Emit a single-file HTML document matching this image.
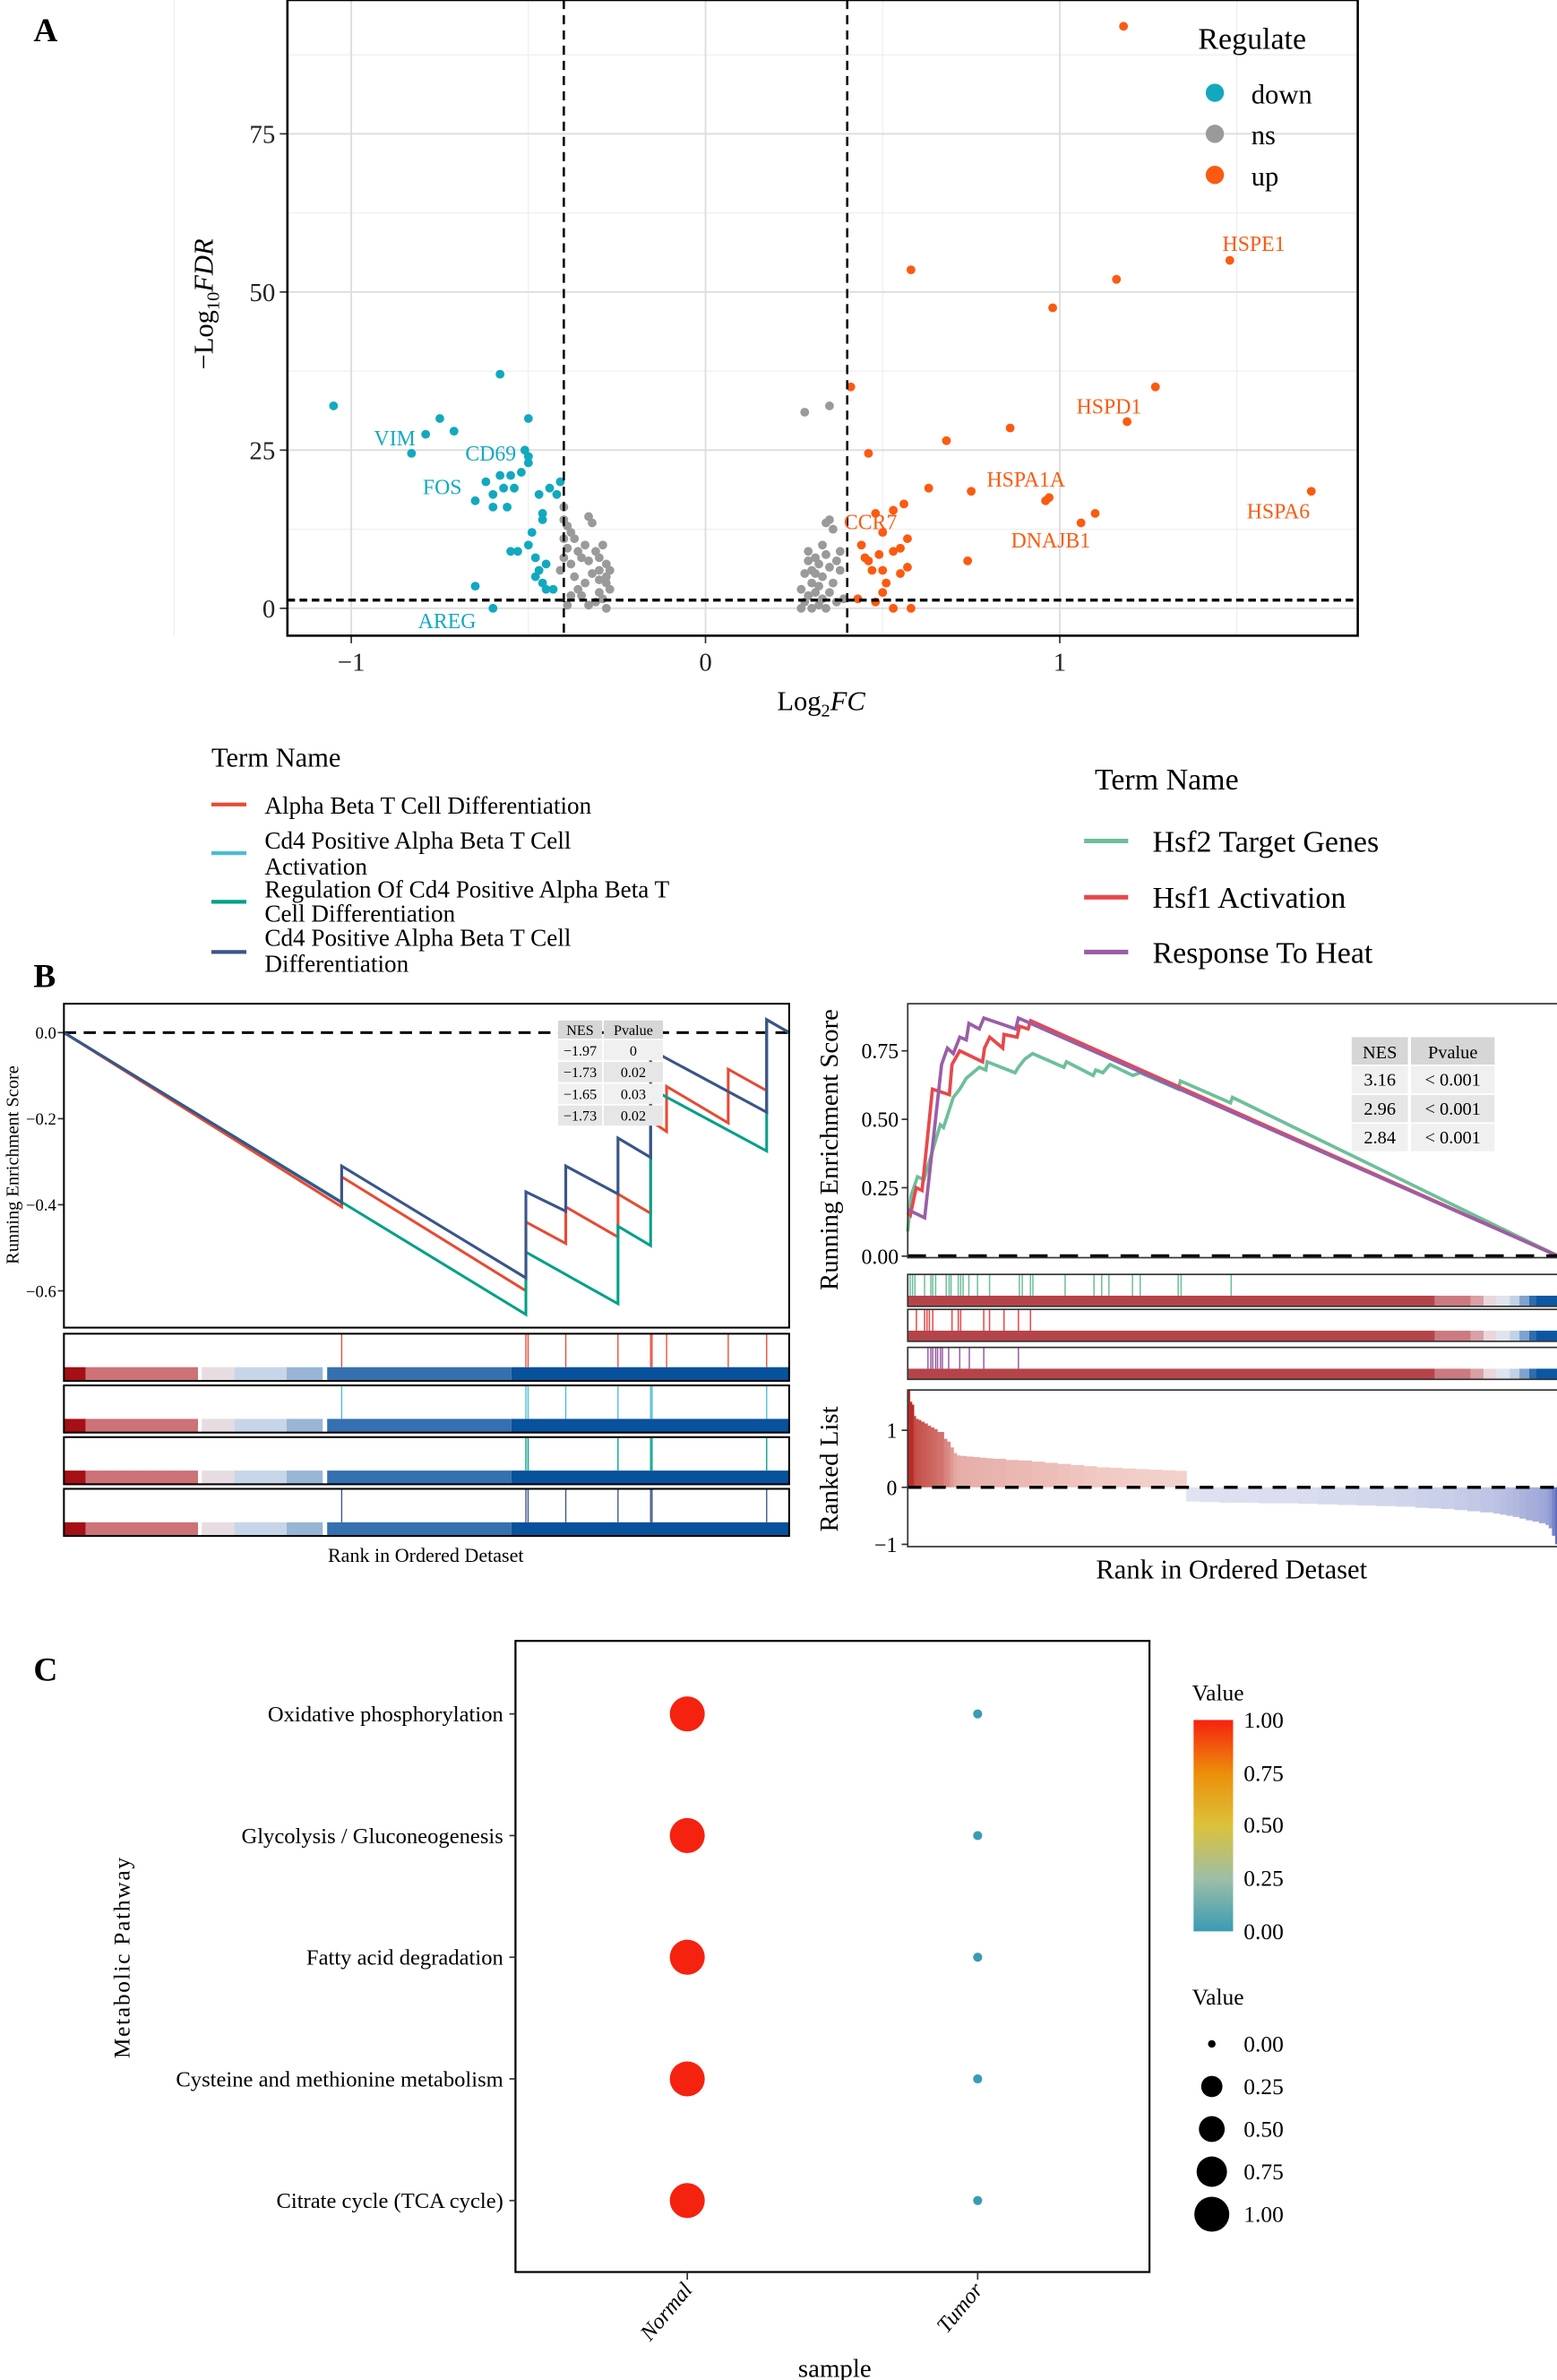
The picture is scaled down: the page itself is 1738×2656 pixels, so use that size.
<!DOCTYPE html>
<html><head><meta charset="utf-8"><style>
html,body{margin:0;padding:0;background:#fff;}
svg{display:block;font-family:"Liberation Serif",serif;}
</style></head><body>
<svg id="fig" width="1738" height="2656" viewBox="0 0 1024 1565" xmlns="http://www.w3.org/2000/svg" font-family="Liberation Serif, serif">
<rect width="1024" height="1565" fill="#fff"/>
<g id="pa">
 <text x="22" y="27" font-size="22" font-weight="bold">A</text>
 <g id="vgrid"></g>
 <g id="vpts"></g>
 <rect x="189" y="0" width="704" height="418" fill="none" stroke="#000" stroke-width="1.5"/>
 <text x="540" y="467" font-size="18" text-anchor="middle">Log<tspan font-size="12" dy="4">2</tspan><tspan dy="-4" font-style="italic">FC</tspan></text>
 <text transform="translate(140,200) rotate(-90)" font-size="18" text-anchor="middle">−Log<tspan font-size="12" dy="4">10</tspan><tspan dy="-4" font-style="italic">FDR</tspan></text>
 <g>
  <text x="788" y="32" font-size="20">Regulate</text>
  <circle cx="799" cy="61" r="6" fill="#12A9BF"/><text x="823" y="68" font-size="18">down</text>
  <circle cx="799" cy="88" r="6" fill="#9A9A9A"/><text x="823" y="95" font-size="18">ns</text>
  <circle cx="799" cy="115" r="6" fill="#FC5A11"/><text x="823" y="122" font-size="18">up</text>
 </g>
 <g font-size="14">
  <text x="246" y="293" fill="#12A9BF">VIM</text><text x="306" y="303" fill="#12A9BF">CD69</text>
  <text x="278" y="325" fill="#12A9BF">FOS</text><text x="275" y="413" fill="#12A9BF">AREG</text>
  <text x="804" y="165" fill="#FC5A11">HSPE1</text><text x="708" y="272" fill="#FC5A11">HSPD1</text>
  <text x="649" y="320" fill="#FC5A11">HSPA1A</text><text x="820" y="341" fill="#FC5A11">HSPA6</text>
  <text x="665" y="360" fill="#FC5A11">DNAJB1</text><text x="555" y="348" fill="#FC5A11">CCR7</text>
 </g>
</g>
<g font-size="16">
 <text x="139" y="504" font-size="18">Term Name</text>
 <line x1="139" x2="162" y1="529" y2="529" stroke="#E64B35" stroke-width="2.5"/><text x="174" y="535">Alpha Beta T Cell Differentiation</text>
 <line x1="139" x2="162" y1="561" y2="561" stroke="#4DBBD5" stroke-width="2.5"/><text x="174" y="558">Cd4 Positive Alpha Beta T Cell</text><text x="174" y="575">Activation</text>
 <line x1="139" x2="162" y1="593" y2="593" stroke="#00A087" stroke-width="2.5"/><text x="174" y="590">Regulation Of Cd4 Positive Alpha Beta T</text><text x="174" y="606">Cell Differentiation</text>
 <line x1="139" x2="162" y1="626" y2="626" stroke="#3C5488" stroke-width="2.5"/><text x="174" y="622">Cd4 Positive Alpha Beta T Cell</text><text x="174" y="639">Differentiation</text>
</g>
<g font-size="20">
 <text x="720" y="519">Term Name</text>
 <line x1="713" x2="742" y1="553" y2="553" stroke="#6DBF9A" stroke-width="3"/><text x="758" y="560">Hsf2 Target Genes</text>
 <line x1="713" x2="742" y1="590" y2="590" stroke="#E8484B" stroke-width="3"/><text x="758" y="597">Hsf1 Activation</text>
 <line x1="713" x2="742" y1="626" y2="626" stroke="#9A5EA6" stroke-width="3"/><text x="758" y="633">Response To Heat</text>
</g>
<text x="22" y="649" font-size="22" font-weight="bold">B</text>
<g id="gl"></g>
<g id="gr"></g>
<text x="280" y="1027" font-size="13" text-anchor="middle">Rank in Ordered Detaset</text>
<text x="810" y="1038" font-size="18" text-anchor="middle">Rank in Ordered Detaset</text>
<text transform="translate(12,766) rotate(-90)" font-size="12" text-anchor="middle">Running Enrichment Score</text>
<text transform="translate(551,756) rotate(-90)" font-size="17" text-anchor="middle">Running Enrichment Score</text>
<text transform="translate(551,966) rotate(-90)" font-size="17" text-anchor="middle">Ranked List</text>
<text x="22" y="1105" font-size="22" font-weight="bold">C</text>
<g id="pc"></g>
<text transform="translate(85,1287) rotate(-90)" font-size="15" text-anchor="middle" letter-spacing="1">Metabolic Pathway</text>
<text x="549" y="1563" font-size="17" text-anchor="middle">sample</text>
<defs>
 <linearGradient id="cbar" x1="0" y1="1" x2="0" y2="0">
  <stop offset="0" stop-color="#3A9BB5"/><stop offset="0.25" stop-color="#9DBFA5"/><stop offset="0.5" stop-color="#DCC23A"/><stop offset="0.75" stop-color="#EC8E0A"/><stop offset="1" stop-color="#F5220F"/>
 </linearGradient>
</defs>
<g font-size="15">
 <text x="784" y="1118">Value</text>
 <rect x="785" y="1131" width="26" height="139" fill="url(#cbar)"/>
 <text x="818" y="1136">1.00</text><text x="818" y="1171">0.75</text><text x="818" y="1205">0.50</text><text x="818" y="1240">0.25</text><text x="818" y="1275">0.00</text>
</g>
<g font-size="15">
 <text x="784" y="1318">Value</text>
 <circle cx="797" cy="1344" r="2.5"/><text x="818" y="1349">0.00</text>
 <circle cx="797" cy="1372" r="7"/><text x="818" y="1377">0.25</text>
 <circle cx="797" cy="1400" r="8.5"/><text x="818" y="1405">0.50</text>
 <circle cx="797" cy="1428" r="10"/><text x="818" y="1433">0.75</text>
 <circle cx="797" cy="1456" r="11.5"/><text x="818" y="1461">1.00</text>
</g>
</svg>
<script>
const NS='http://www.w3.org/2000/svg';
function mk(tag,attrs,parent){const e=document.createElementNS(NS,tag);for(const k in attrs)e.setAttribute(k,attrs[k]);parent.appendChild(e);return e;}

// ---------- Volcano data ----------
const downX=[-1.05,-0.58,-0.71,-0.75,-0.79,-0.83,-0.5,-0.51,-0.5,-0.5,-0.62,-0.58,-0.55,-0.52,-0.41,-0.6,-0.57,-0.47,-0.65,-0.6,-0.56,-0.46,-0.46,-0.44,-0.49,-0.5,-0.55,-0.53,-0.48,-0.45,-0.47,-0.46,-0.48,-0.45,-0.65,-0.6,-0.43,-0.54,-0.42];
const downY=[32,37,28,30,27.5,24.5,30,25,24,23,20,21,21,21.5,20,18,19,18,17,16,16,15,14,19,12,10,9,9,8,7,6,4,5,3,3.5,0,3,19,18];
const nsX=[-0.4,-0.4,-0.39,-0.38,-0.4,-0.37,-0.39,-0.36,-0.4,-0.38,-0.35,-0.33,-0.31,-0.29,-0.3,-0.28,-0.27,-0.28,-0.3,-0.32,-0.34,-0.36,-0.38,-0.39,-0.33,-0.31,-0.28,-0.3,-0.27,-0.29,-0.34,-0.32,-0.41,-0.37,-0.35,-0.33,-0.28,-0.3,
 0.28,0.35,0.35,0.34,0.36,0.33,0.29,0.31,0.32,0.3,0.28,0.33,0.35,0.37,0.38,0.3,0.27,0.32,0.29,0.35,0.33,0.27,0.3,0.32,0.34,0.37,0.39,0.36,0.28,0.31,0.38,0.34,0.29,0.31];
const nsY=[16,14,13,12,11,11,9.5,9,8,7,8,7.5,9,10,8,7,6,5,4.5,5.5,4,3,2,0.5,0.5,1,0,2.5,3,1.5,10,13.5,6,5,2,14.5,4,6,
 31,32,14,13.5,12.5,10,9,8,7,6,5.5,5,6.5,7.5,6,4,3,3.5,2,2.5,1.5,0,0,0.5,0,1,1.5,4,1,2.5,9,8.5,7.5,5.5];
const upX=[1.18,0.58,1.16,0.98,1.48,1.27,0.41,1.19,0.86,0.68,0.46,0.63,0.75,0.96,0.97,1.1,1.06,1.71,0.48,0.53,0.56,0.5,0.57,0.55,0.44,0.49,0.53,0.46,0.47,0.5,0.55,0.57,0.74,0.51,0.5,0.48,0.43,0.53,0.58,0.45];
const upY=[92,53.5,52,47.5,55,35,35,29.5,28.5,26.5,24.5,19,18.5,17,17.5,15,13.5,18.5,15,15.5,16.5,12,11,9.5,10,8.5,9,7.5,6,6,5.5,6.5,7.5,4,2.5,1,1.5,0,0,8];
const xTickVals=[-1,0,1], xTickLabels=['−1','0','1'];
const yTickVals=[0,25,50,75], yTickLabels=['0','25','50','75'];
const vx=v=>464+233*v, vy=v=>400-4.16*v;
const vg=document.getElementById('vgrid');
[-1.5,-0.5,0.5,1.5].forEach(v=>{const l=mk('line',{x1:vx(v),x2:vx(v),y1:0,y2:418,stroke:'#EBEBEB','stroke-width':0.6},vg);});
[12.5,37.5,62.5,87.5].forEach(v=>{const l=mk('line',{x1:189,x2:893,y1:vy(v),y2:vy(v),stroke:'#EBEBEB','stroke-width':0.6},vg);});
xTickVals.forEach((v,i)=>{const l=mk('line',{x1:vx(v),x2:vx(v),y1:0,y2:418,stroke:'#DDDDDD','stroke-width':1.1},vg);
 const t=mk('line',{x1:vx(v),x2:vx(v),y1:418,y2:423,stroke:'#333'},vg);
 const tx=mk('text',{x:vx(v),y:441,'font-size':17,'text-anchor':'middle',fill:'#222'},vg);tx.textContent=xTickLabels[i];});
yTickVals.forEach((v,i)=>{const l=mk('line',{x1:189,x2:893,y1:vy(v),y2:vy(v),stroke:'#DDDDDD','stroke-width':1.1},vg);
 const t=mk('line',{x1:184,x2:189,y1:vy(v),y2:vy(v),stroke:'#333'},vg);
 const tx=mk('text',{x:181,y:vy(v)+6,'font-size':17,'text-anchor':'end',fill:'#222'},vg);tx.textContent=yTickLabels[i];});
const vp=document.getElementById('vpts');
function pts(X,Y,col,nm){X.forEach((x,i)=>{const c=mk('circle',{cx:vx(x),cy:vy(Y[i]),r:2.9,fill:col},vp);});}
pts(nsX,nsY,'#9A9A9A','ns-point');pts(downX,downY,'#12A9BF','down-point');pts(upX,upY,'#FC5A11','up-point');
[-0.4,0.4].forEach(v=>{const l=mk('line',{x1:vx(v),x2:vx(v),y1:0,y2:418,stroke:'#000','stroke-width':1.5,'stroke-dasharray':'6,4'},vp);});
{const l=mk('line',{x1:189,x2:893,y1:vy(1.3),y2:vy(1.3),stroke:'#000','stroke-width':2,'stroke-dasharray':'5,3'},vp);}

// ---------- GSEA left ----------
const glRedX=[0,0.383,0.383,0.637,0.637,0.692,0.692,0.764,0.764,0.809,0.809,0.831,0.831,0.916,0.916,0.969,0.969,1];
const glRedY=[0,-0.405,-0.335,-0.60,-0.44,-0.49,-0.405,-0.475,-0.375,-0.42,-0.205,-0.23,-0.125,-0.21,-0.085,-0.135,0.03,0];
const glTealX=[0,0.383,0.383,0.637,0.637,0.692,0.692,0.764,0.764,0.809,0.809,0.969,0.969,1];
const glTealY=[0,-0.395,-0.31,-0.57,-0.37,-0.415,-0.31,-0.375,-0.245,-0.29,-0.04,-0.185,0.03,0];
const glGreenX=[0,0.637,0.637,0.764,0.764,0.809,0.809,0.969,0.969,1];
const glGreenY=[0,-0.655,-0.51,-0.63,-0.45,-0.495,-0.13,-0.275,0.03,0];
const glNavyX=glTealX.slice(), glNavyY=glTealY.slice();
const glTicks=[0,-0.2,-0.4,-0.6], glTickLabels=['0.0','−0.2','−0.4','−0.6'];
const glHits=[[0.383,0.637,0.640,0.692,0.764,0.809,0.811,0.831,0.916,0.969],[0.383,0.637,0.640,0.692,0.764,0.809,0.811,0.969],[0.637,0.640,0.764,0.809,0.811,0.969],[0.383,0.637,0.640,0.692,0.764,0.809,0.811,0.969]];
const glCols=['#E64B35','#4DBBD5','#00A087','#3C5488'];
const glNES=['−1.97','−1.73','−1.65','−1.73'], glP=['0','0.02','0.03','0.02'];
const gl=document.getElementById('gl');
const lx=f=>42+477*f, ly=v=>679-283*v;
glTicks.forEach((v,i)=>{const t=mk('line',{x1:38,x2:42,y1:ly(v),y2:ly(v),stroke:'#333'},gl);
 const tx=mk('text',{x:37,y:ly(v)+4,'font-size':11,'text-anchor':'end'},gl);tx.textContent=glTickLabels[i];});
{const l=mk('line',{x1:42,x2:519,y1:ly(0),y2:ly(0),stroke:'#000','stroke-width':1.8,'stroke-dasharray':'8,5'},gl);}
[[glTealX,glTealY],[glRedX,glRedY],[glGreenX,glGreenY],[glNavyX,glNavyY]].forEach((s,k)=>{const idx=[1,0,2,3][k];
 const p=mk('polyline',{points:s[0].map((x,i)=>lx(x)+','+ly(s[1][i])).join(' '),fill:'none',stroke:glCols[idx],'stroke-width':1.8},gl);});
{const tg=mk('g',{'font-size':9.5,'text-anchor':'middle'},gl);
 mk('rect',{x:367,y:671,width:29,height:12,fill:'#D6D6D6'},tg);mk('rect',{x:397,y:671,width:39,height:12,fill:'#D6D6D6'},tg);
 let a=mk('text',{x:381.5,y:680.5},tg);a.textContent='NES';a=mk('text',{x:416.5,y:680.5},tg);a.textContent='Pvalue';
 glNES.forEach((n,i)=>{const y=684+i*14.3;mk('rect',{x:367,y:y,width:29,height:13.3,fill:i%2?'#E6E6E6':'#F0F0F0'},tg);mk('rect',{x:397,y:y,width:39,height:13.3,fill:i%2?'#E6E6E6':'#F0F0F0'},tg);
  let t=mk('text',{x:381.5,y:y+10},tg);t.textContent=n;t=mk('text',{x:416.5,y:y+10},tg);t.textContent=glP[i];});}
{const r=mk('rect',{x:42,y:660,width:477,height:213,fill:'none',stroke:'#000','stroke-width':1.2},gl);}
const glBarStops=[0,0.03,0.185,0.19,0.235,0.307,0.357,0.363,0.617,1];
const glBarCols=['#A50F15','#CD7277','#FFFFFF','#E8DCE3','#C6D6E8','#98B5D6','#FFFFFF','#3570B0','#08519C'];
glHits.forEach((h,k)=>{const y0=877+k*34;const g=mk('g',{},gl);
 for(let i=0;i<glBarCols.length;i++){mk('rect',{x:lx(glBarStops[i]),y:y0+22,width:lx(glBarStops[i+1])-lx(glBarStops[i]),height:9,fill:glBarCols[i]},g);}
 h.forEach(f=>{const l=mk('line',{x1:lx(f),x2:lx(f),y1:y0,y2:y0+22,stroke:glCols[k],'stroke-width':0.8},g);});
 mk('rect',{x:42,y:y0,width:477,height:31,fill:'none',stroke:'#000','stroke-width':1.2},g);});

// ---------- GSEA right ----------
const grGreenX=[0,0.005,0.015,0.025,0.05,0.055,0.07,0.08,0.09,0.1,0.11,0.12,0.122,0.165,0.17,0.18,0.192,0.24,0.244,0.285,0.289,0.3,0.307,0.311,0.346,0.357,0.416,0.419,0.496,0.499,1];
const grGreenY=[0.09,0.22,0.29,0.28,0.48,0.47,0.58,0.61,0.65,0.67,0.69,0.68,0.71,0.67,0.69,0.72,0.74,0.69,0.71,0.66,0.68,0.67,0.69,0.70,0.66,0.67,0.61,0.64,0.56,0.58,0];
const grRedX=[0,0.004,0.013,0.022,0.038,0.064,0.068,0.08,0.115,0.118,0.126,0.146,0.148,0.168,0.172,0.185,0.189,1];
const grRedY=[0.16,0.15,0.25,0.24,0.61,0.59,0.70,0.75,0.71,0.76,0.80,0.76,0.81,0.80,0.84,0.83,0.86,0];
const grPurpleX=[0,0.026,0.052,0.061,0.07,0.08,0.09,0.094,0.11,0.117,0.166,0.17,1];
const grPurpleY=[0.17,0.14,0.70,0.76,0.74,0.80,0.79,0.85,0.83,0.87,0.83,0.87,0];
const grTicks=[0,0.25,0.5,0.75], grTickLabels=['0.00','0.25','0.50','0.75'];
const grHitsGreen=[215,220,225,245,258,262,268,290,296,300,315,320,325,337,355,380,442,448,465,470,537,597,613,628,677,693,772,778,882].map(z=>(z-210)/1352);
const grHitsRed=[228,245,250,255,262,302,315,320,368,380,410,440,465].map(z=>(z-210)/1352);
const grHitsPurple=[252,258,262,268,272,278,282,295,318,338,368,440].map(z=>(z-210)/1352);
const grNES=['3.16','2.96','2.84'], grP=['< 0.001','< 0.001','< 0.001'];
const rankX=[0,0.003,0.006,0.009,0.012,0.016,0.02,0.025,0.03,0.035,0.04,0.045,0.05,0.055,0.06,0.065,0.07,0.075,0.08,0.09,0.1,0.11,0.12,0.13,0.15,0.17,0.19,0.21,0.23,0.25,0.27,0.29,0.31,0.33,0.35,0.37,0.39,0.41,
 0.428,0.45,0.48,0.51,0.54,0.57,0.6,0.63,0.66,0.69,0.72,0.75,0.78,0.8,0.82,0.84,0.86,0.88,0.9,0.91,0.92,0.93,0.94,0.95,0.96,0.97,0.98,0.985,0.99,0.995];
const rankY=[1.7,1.5,1.45,1.25,1.2,1.18,1.15,1.12,1.08,1.05,1.02,0.97,0.97,0.85,0.8,0.7,0.6,0.56,0.55,0.54,0.53,0.52,0.51,0.5,0.48,0.47,0.45,0.43,0.41,0.39,0.37,0.35,0.34,0.33,0.32,0.31,0.3,0.29,
 -0.25,-0.26,-0.27,-0.27,-0.28,-0.28,-0.29,-0.3,-0.31,-0.32,-0.33,-0.34,-0.36,-0.37,-0.38,-0.4,-0.42,-0.44,-0.46,-0.48,-0.5,-0.52,-0.55,-0.58,-0.6,-0.63,-0.66,-0.72,-0.85,-1.0];
const rankTicks=[1,0,-1], rankTickLabels=['1','0','−1'];
const gr=document.getElementById('gr');
const rx=f=>597+428*f, ry=v=>826-180*v;
grTicks.forEach((v,i)=>{const t=mk('line',{x1:593,x2:597,y1:ry(v),y2:ry(v),stroke:'#333'},gr);
 const tx=mk('text',{x:591,y:ry(v)+5,'font-size':14,'text-anchor':'end'},gr);tx.textContent=grTickLabels[i];});
[[grGreenX,grGreenY,'#6DBF9A'],[grRedX,grRedY,'#E8484B'],[grPurpleX,grPurpleY,'#9A5EA6']].forEach(s=>{
 const p=mk('polyline',{points:s[0].map((x,i)=>rx(x)+','+ry(s[1][i])).join(' '),fill:'none',stroke:s[2],'stroke-width':2.2},gr);});
{const l=mk('line',{x1:597,x2:1025,y1:ry(0),y2:ry(0),stroke:'#000','stroke-width':2.5,'stroke-dasharray':'12,8'},gr);}
{const tg=mk('g',{'font-size':12,'text-anchor':'middle'},gr);
 mk('rect',{x:889,y:682,width:37,height:18,fill:'#D6D6D6'},tg);mk('rect',{x:928,y:682,width:55,height:18,fill:'#D6D6D6'},tg);
 let a=mk('text',{x:907.5,y:696},tg);a.textContent='NES';a=mk('text',{x:955.5,y:696},tg);a.textContent='Pvalue';
 grNES.forEach((n,i)=>{const y=701+i*19;const f=i%2?'#E6E6E6':'#F0F0F0';mk('rect',{x:889,y:y,width:37,height:18,fill:f},tg);mk('rect',{x:928,y:y,width:55,height:18,fill:f},tg);
  let t=mk('text',{x:907.5,y:y+13},tg);t.textContent=n;t=mk('text',{x:955.5,y:y+13},tg);t.textContent=grP[i];});}
{const r=mk('rect',{x:597,y:660,width:428,height:167,fill:'none',stroke:'#333','stroke-width':1},gr);}
const grBarStops=[0,0.81,0.865,0.885,0.905,0.925,0.94,0.955,0.965,1];
const grBarCols=['#B5444A','#CC7A80','#D9A0A6','#EAD6DC','#E0E4EE','#C2D2E6','#7FA3CF','#2F6CB0','#0B57A2'];
[grHitsGreen,grHitsRed,grHitsPurple].forEach((h,k)=>{const y0=[838,861,886][k];const col=['#6DBF9A','#E8484B','#9A5EA6'][k];
 const g=mk('g',{},gr);
 for(let i=0;i<grBarCols.length;i++)mk('rect',{x:rx(grBarStops[i]),y:y0+14,width:rx(grBarStops[i+1])-rx(grBarStops[i]),height:7,fill:grBarCols[i]},g);
 h.forEach(f=>{const l=mk('line',{x1:rx(f),x2:rx(f),y1:y0,y2:y0+14,stroke:col,'stroke-width':0.9},g);});
 mk('rect',{x:597,y:y0,width:428,height:21,fill:'none',stroke:'#333','stroke-width':1},g);});
const kx=f=>597+428*f, ky=v=>978-37.5*v;
function mix(a,b,t){t=Math.max(0,Math.min(1,t));return `rgb(${Math.round(a[0]+(b[0]-a[0])*t)},${Math.round(a[1]+(b[1]-a[1])*t)},${Math.round(a[2]+(b[2]-a[2])*t)})`;}
rankX.forEach((f,i)=>{const next=i<rankX.length-1?rankX[i+1]:1;const v=rankY[i];let col;
 if(v>0){col=mix([246,216,210],[185,45,40],(v-0.25)/1.2);}
 else{col=mix([224,227,242],[95,110,190],(-v-0.25)/0.75);}
 const b=mk('rect',{x:kx(f),y:Math.min(ky(v),ky(0)),width:kx(next)-kx(f)+0.4,height:Math.abs(ky(v)-ky(0)),fill:col},gr);});
{const l=mk('line',{x1:597,x2:1025,y1:ky(0),y2:ky(0),stroke:'#000','stroke-width':2,'stroke-dasharray':'9,7'},gr);}
rankTicks.forEach((v,i)=>{const t=mk('line',{x1:593,x2:597,y1:ky(v),y2:ky(v),stroke:'#333'},gr);
 const tx=mk('text',{x:590,y:ky(v)+5,'font-size':14,'text-anchor':'end'},gr);tx.textContent=rankTickLabels[i];});
{const r=mk('rect',{x:597,y:914,width:428,height:103,fill:'none',stroke:'#333','stroke-width':1},gr);}

// ---------- Dot plot ----------
const pathways=['Oxidative phosphorylation','Glycolysis / Gluconeogenesis','Fatty acid degradation','Cysteine and methionine metabolism','Citrate cycle (TCA cycle)'];
const samples=['Normal','Tumor'];
const normalVals=[1,1,1,1,1];
const tumorVals=[0,0,0,0,0];
const pc=document.getElementById('pc');
const dx=i=>452+191*i, dy=i=>1127+80*i;
const rad=v=>3+8.5*Math.sqrt(v);
const colScale=v=>v>0.5?'#F5220F':'#3A9BB5';
{const r=mk('rect',{x:339,y:1079,width:417,height:415,fill:'none',stroke:'#000','stroke-width':1.3},pc);}
pathways.forEach((p,i)=>{const t=mk('line',{x1:335,x2:339,y1:dy(i),y2:dy(i),stroke:'#333'},pc);
 const tx=mk('text',{x:331,y:dy(i)+5,'font-size':14.5,'text-anchor':'end'},pc);tx.textContent=p;
 [normalVals[i],tumorVals[i]].forEach((v,j)=>{const c=mk('circle',{cx:dx(j),cy:dy(i),r:rad(v),fill:colScale(v)},pc);});});
samples.forEach((s,j)=>{const t=mk('line',{x1:dx(j),x2:dx(j),y1:1494,y2:1499,stroke:'#333'},pc);
 const tx=mk('text',{x:dx(j)+4,y:1506,'font-size':14.5,'text-anchor':'end','font-style':'italic',transform:`rotate(-50 ${dx(j)+4} 1506)`},pc);tx.textContent=s;});
</script>
</body></html>
